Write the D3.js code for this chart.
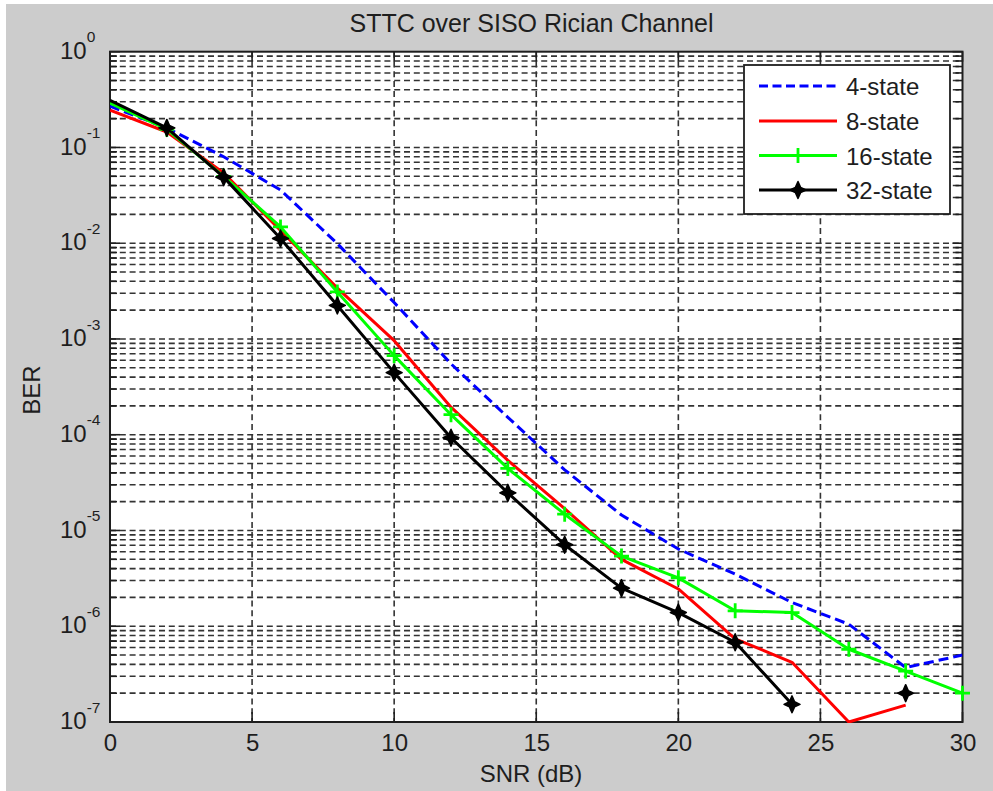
<!DOCTYPE html>
<html>
<head>
<meta charset="utf-8">
<script src="https://cdn.jsdelivr.net/npm/d3@7"></script>
<style>
  html, body { margin: 0; padding: 0; background: #ffffff; }
  svg { display: block; }
  text { font-family: "Liberation Sans", Arial, Helvetica, sans-serif; fill: #1e1e1e; }
</style>
</head>
<body>
<svg id="chart" width="993" height="791"></svg>
<script>
// SNR sample points (dB)
const snr = [0, 2, 4, 6, 8, 10, 12, 14, 16, 18, 20, 22, 24, 26, 28, 30];

// Bit error rate per trellis size (null = no errors counted, not plotted)
const ber4  = [0.27, 0.16, 0.08, 0.036, 0.0099, 0.0024, 5.5e-4, 1.52e-4, 4.3e-5, 1.45e-5, 6.4e-6, 3.5e-6, 1.77e-6, 1.05e-6, 3.7e-7, 5.0e-7];
const ber8  = [0.245, 0.145, 0.054, 0.0136, 0.0034, 9.6e-4, 1.94e-4, 5.4e-5, 1.69e-5, 5.0e-6, 2.45e-6, 7.4e-7, 4.2e-7, 1.0e-7, 1.5e-7, null];
const ber16 = [0.29, 0.155, 0.05, 0.0148, 0.0031, 6.7e-4, 1.62e-4, 4.45e-5, 1.48e-5, 5.4e-6, 3.2e-6, 1.45e-6, 1.39e-6, 5.75e-7, 3.4e-7, 2.0e-7];
const ber32 = [0.31, 0.16, 0.049, 0.0112, 0.00224, 4.45e-4, 9.3e-5, 2.47e-5, 7.1e-6, 2.5e-6, 1.39e-6, 6.8e-7, 1.53e-7, null, 2.0e-7, null];

const seriesNames = ["4-state", "8-state", "16-state", "32-state"];
const xTicks = [0, 5, 10, 15, 20, 25, 30];
const yExponents = [0, -1, -2, -3, -4, -5, -6, -7];

const title = "STTC over SISO Rician Channel";
const xLabel = "SNR (dB)";
const yLabel = "BER";

const series = [
  { name: seriesNames[0], values: ber4,  color: "#0000ff", dash: "10,5", marker: null },
  { name: seriesNames[1], values: ber8,  color: "#ff0000", dash: null,   marker: null },
  { name: seriesNames[2], values: ber16, color: "#00ff00", dash: null,   marker: "plus" },
  { name: seriesNames[3], values: ber32, color: "#000000", dash: null,   marker: "star" }
];

const svg = d3.select("#chart");
const W = 993, H = 791;
const plot = { left: 110, top: 51.7, right: 962.5, bottom: 722 };

// figure background
svg.append("rect").attr("x", 0).attr("y", 0).attr("width", W).attr("height", H).attr("fill", "#ffffff");
svg.append("rect").attr("x", 6).attr("y", 4).attr("width", W - 6).attr("height", H - 4).attr("fill", "#cccccc");

const x = d3.scaleLinear().domain([0, 30]).range([plot.left, plot.right]);
const y = d3.scaleLog().domain([1e-7, 1]).range([plot.bottom, plot.top]);

// axes area
svg.append("rect")
  .attr("x", plot.left).attr("y", plot.top)
  .attr("width", plot.right - plot.left).attr("height", plot.bottom - plot.top)
  .attr("fill", "#ffffff");

svg.append("clipPath").attr("id", "plotClip")
  .append("rect")
  .attr("x", plot.left).attr("y", plot.top - 1)
  .attr("width", plot.right - plot.left).attr("height", plot.bottom - plot.top + 2);

// log grid values: every 1..9 x 10^k
const gridY = [];
for (let k = -7; k < 0; k++) {
  for (let m = 1; m <= 9; m++) gridY.push(m * Math.pow(10, k));
}
gridY.push(1);

const gridStyle = { stroke: "#333333", width: 1.6, dash: "6,3.8" };

const grid = svg.append("g");
grid.selectAll("line.gy").data(gridY.filter(v => v > 1e-7 && v < 1)).join("line")
  .attr("class", "gy")
  .attr("x1", plot.left).attr("x2", plot.right)
  .attr("y1", d => y(d)).attr("y2", d => y(d))
  .attr("stroke", gridStyle.stroke).attr("stroke-width", gridStyle.width)
  .attr("stroke-dasharray", gridStyle.dash);
grid.selectAll("line.gx").data(xTicks.filter(v => v > 0 && v < 30)).join("line")
  .attr("class", "gx")
  .attr("x1", d => x(d)).attr("x2", d => x(d))
  .attr("y1", plot.top).attr("y2", plot.bottom)
  .attr("stroke", gridStyle.stroke).attr("stroke-width", gridStyle.width)
  .attr("stroke-dasharray", gridStyle.dash);

// tick marks on all four sides (pointing inward)
const ticks = svg.append("g").attr("stroke", "#1e1e1e").attr("stroke-width", 1.6);
xTicks.forEach(v => {
  ticks.append("line").attr("x1", x(v)).attr("x2", x(v)).attr("y1", plot.bottom).attr("y2", plot.bottom - 10);
  ticks.append("line").attr("x1", x(v)).attr("x2", x(v)).attr("y1", plot.top).attr("y2", plot.top + 10);
});
gridY.forEach(v => {
  const major = Math.abs(Math.log10(v) - Math.round(Math.log10(v))) < 1e-9;
  const len = major ? 10 : 7;
  ticks.append("line").attr("x1", plot.left).attr("x2", plot.left + len).attr("y1", y(v)).attr("y2", y(v));
  ticks.append("line").attr("x1", plot.right).attr("x2", plot.right - len).attr("y1", y(v)).attr("y2", y(v));
});

// box
svg.append("rect")
  .attr("x", plot.left).attr("y", plot.top)
  .attr("width", plot.right - plot.left).attr("height", plot.bottom - plot.top)
  .attr("fill", "none").attr("stroke", "#1e1e1e").attr("stroke-width", 2);

// x axis labels via d3 axis (tick lines hidden, drawn above)
const xAxis = d3.axisBottom(x).tickValues(xTicks).tickSize(0).tickPadding(0).tickFormat(d3.format("d"));
const gx = svg.append("g").attr("transform", `translate(0,${plot.bottom})`).call(xAxis);
gx.select(".domain").remove();
gx.selectAll("text")
  .attr("y", 28.5).attr("dy", null)
  .style("font-size", "24px")
  .style("font-family", "'Liberation Sans', Arial, sans-serif")
  .attr("fill", "#1e1e1e");

// y axis labels as 10^k
const yAxis = d3.axisLeft(y).tickValues(yExponents.map(e => Math.pow(10, e))).tickSize(0).tickFormat(() => "");
const gy = svg.append("g").attr("transform", `translate(${plot.left},0)`).call(yAxis);
gy.select(".domain").remove();
gy.selectAll(".tick text").each(function (d) {
  const t = d3.select(this);
  const e = Math.round(Math.log10(d));
  t.attr("x", -50).attr("dy", null).attr("y", 6.6)
    .attr("text-anchor", "start")
    .style("font-size", "24px")
    .style("font-family", "'Liberation Sans', Arial, sans-serif")
    .attr("fill", "#1e1e1e");
  t.text(null);
  t.append("tspan").text("10");
  t.append("tspan").attr("dy", -16.5).style("font-size", "15.5px").text(String(e));
});

// series
const line = d3.line()
  .defined(d => d.v !== null)
  .x(d => x(d.s))
  .y(d => y(d.v));

const plotG = svg.append("g").attr("clip-path", "url(#plotClip)");

const starPath = "M0,-8.5L2.6,-2.6L8,0L2.6,2.6L0,8.5L-2.6,2.6L-8,0L-2.6,-2.6Z";

function drawMarker(g, type, cx, cy, color) {
  if (type === "plus") {
    g.append("path")
      .attr("d", `M${cx - 7.5},${cy}H${cx + 7.5}M${cx},${cy - 7.5}V${cy + 7.5}`)
      .attr("stroke", color).attr("stroke-width", 2.8).attr("fill", "none");
  } else if (type === "star") {
    g.append("path")
      .attr("transform", `translate(${cx},${cy})`)
      .attr("d", starPath)
      .attr("fill", color).attr("stroke", color).attr("stroke-width", 1.5)
      .attr("stroke-linejoin", "round");
  }
}

series.forEach(sr => {
  const pts = snr.map((s, i) => ({ s, v: sr.values[i] }));
  const path = plotG.append("path")
    .datum(pts)
    .attr("d", line)
    .attr("fill", "none")
    .attr("stroke", sr.color)
    .attr("stroke-width", 3)
    .attr("stroke-linejoin", "round");
  if (sr.dash) path.attr("stroke-dasharray", sr.dash);
  if (sr.marker) {
    const mg = svg.append("g");
    pts.filter((d, i) => d.v !== null && i > 0).forEach(d => drawMarker(mg, sr.marker, x(d.s), y(d.v), sr.color));
  }
});

// legend
const leg = { x: 744, y: 65, w: 206, h: 149 };
const lg = svg.append("g");
lg.append("rect").attr("x", leg.x).attr("y", leg.y).attr("width", leg.w).attr("height", leg.h)
  .attr("fill", "#ffffff").attr("stroke", "#1e1e1e").attr("stroke-width", 1.8);
const rowY = [86, 121, 155.5, 190];
series.forEach((sr, i) => {
  const ly = rowY[i];
  const l = lg.append("line").attr("x1", 759).attr("x2", 837).attr("y1", ly).attr("y2", ly)
    .attr("stroke", sr.color).attr("stroke-width", 3);
  if (sr.dash) l.attr("stroke-dasharray", "9,4.5");
  if (sr.marker) drawMarker(lg, sr.marker, 798, ly, sr.color);
  lg.append("text").attr("x", 846).attr("y", ly + 9)
    .style("font-size", "24px").text(sr.name);
});

// title and axis labels
svg.append("text").attr("x", 531.5).attr("y", 32).attr("text-anchor", "middle")
  .style("font-size", "25px").text(title);
svg.append("text").attr("x", 531).attr("y", 782).attr("text-anchor", "middle")
  .style("font-size", "24px").text(xLabel);
svg.append("text").attr("transform", "translate(40,390) rotate(-90)").attr("text-anchor", "middle")
  .style("font-size", "24px").text(yLabel);
</script>
</body>
</html>
